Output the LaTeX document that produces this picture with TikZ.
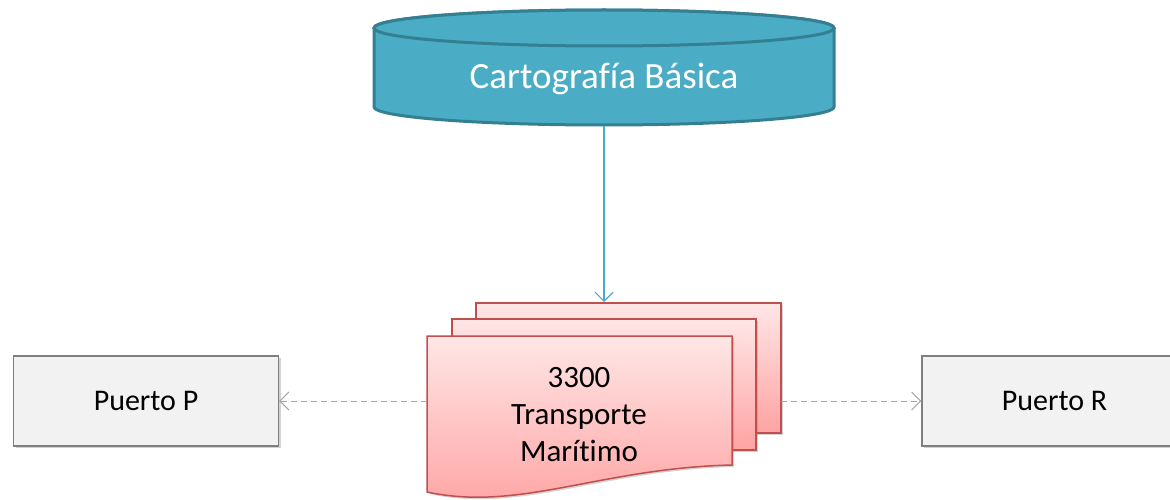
\documentclass[tikz,border=0pt]{standalone}
\usepackage{fontspec}
\setmainfont{Carlito}[Ligatures=NoCommon]
\usetikzlibrary{arrows.meta,shadows}
\definecolor{cylfill}{HTML}{4BACC6}
\definecolor{cyledge}{HTML}{357F92}
\definecolor{docedge}{HTML}{C0504D}
\definecolor{doctop}{HTML}{FFE6E6}
\definecolor{docbot}{HTML}{FFA3A3}
\definecolor{boxfill}{HTML}{F2F2F2}
\definecolor{boxedge}{HTML}{7F7F7F}
\definecolor{dashgray}{HTML}{A6A6A6}
\tikzset{
  cyl/.style={fill=cylfill, draw=cyledge, line width=3pt},
  docpage/.style={draw=docedge, line width=1.5pt, top color=doctop, bottom color=docbot,
    drop shadow={opacity=0.35, shadow xshift=2pt, shadow yshift=-2pt}},
  portbox/.style={draw=boxedge, line width=1.2pt, fill=boxfill,
    minimum width=265pt, minimum height=90pt, inner sep=0pt,
    font=\fontsize{30}{36}\selectfont,
    drop shadow={opacity=0.35, shadow xshift=2pt, shadow yshift=-2pt}},
  flowline/.style={draw=cylfill, line width=1.2pt, -{Straight Barb[length=9pt,width=18pt,line width=1.2pt]}},
  dashline/.style={draw=dashgray, line width=1pt, dash pattern=on 6pt off 4pt,
    -{Straight Barb[length=9pt,width=18pt,line width=1pt]}}
}
\begin{document}
\begin{tikzpicture}[x=1pt,y=-1pt]
\clip (0,0) rectangle (1170,500);
% cylinder
\path[cyl] (374,28) -- (374,107) arc[start angle=180, end angle=360, x radius=230pt, y radius=18pt] -- (834,28) arc[start angle=0, end angle=180, x radius=230pt, y radius=18pt] -- cycle;
\draw[cyl] (604,28) ellipse [x radius=230pt, y radius=18pt];
\node[text=white, font=\fontsize{37}{44}\selectfont] (carto) at (604,79) {Cartograf\kern0ptía Básica};
\coordinate (cartobot) at (604,126);
% documents
\path[docpage] (476,303) rectangle (781,433);
\path[docpage] (452,319) rectangle (756,450);
\path[docpage] (427,336) -- (732,336) -- (732,465) .. controls (600,468) and (520,512) .. (427,492) -- cycle;
\coordinate (doctop) at (604,302);
\coordinate (docleft) at (427,401);
\coordinate (docright) at (781,401);
\node[align=center, font=\fontsize{31}{37}\selectfont] (doc) at (579,415) {3300\\Transporte\\Marít\kern0ptimo};
% ports
\node[portbox] (pp) at (146,401) {Puerto P};
\node[portbox] (pr) at (1054.5,401) {Puerto R};
% connectors
\draw[flowline] (cartobot) -- (doctop);
\draw[dashline] (docleft) -- (pp.east);
\draw[dashline] (docright) -- (pr.west);
\end{tikzpicture}
\end{document}
